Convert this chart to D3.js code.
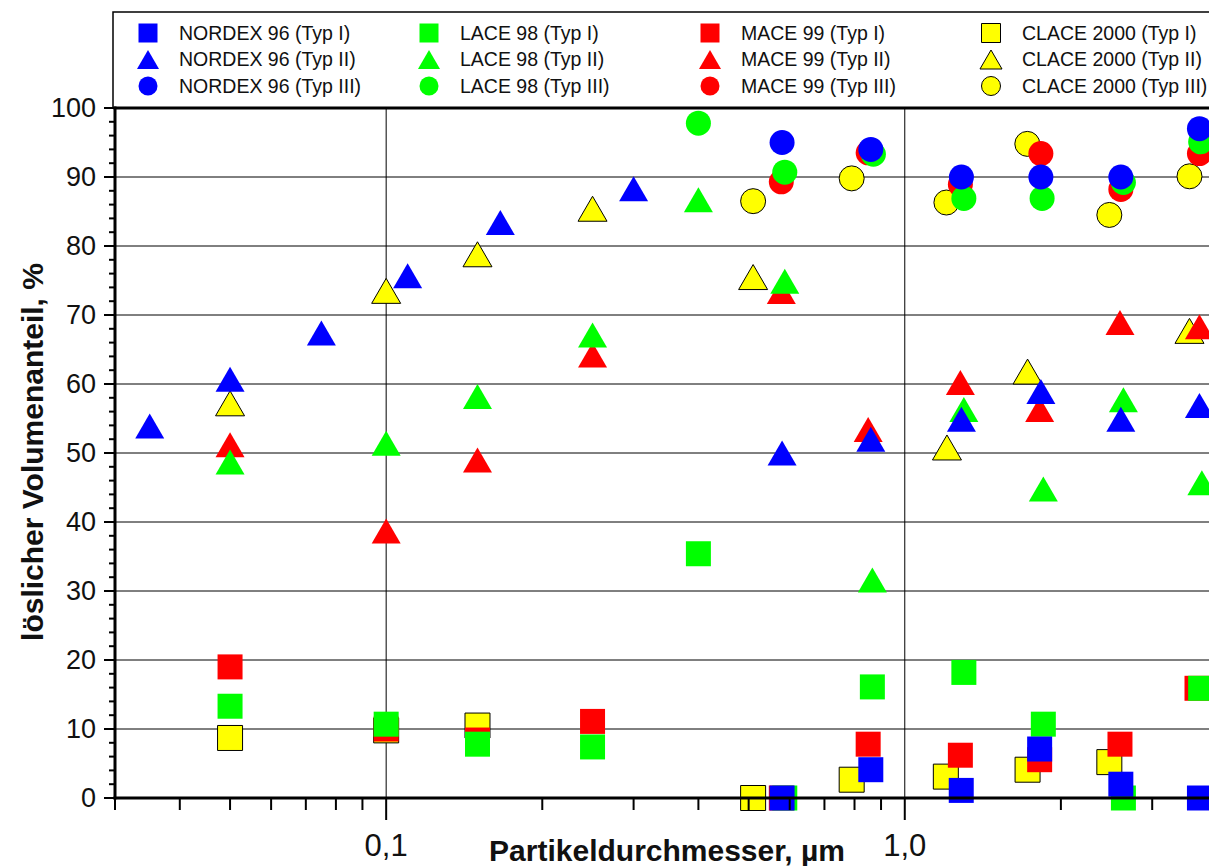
<!DOCTYPE html>
<html>
<head>
<meta charset="utf-8">
<script src="https://cdn.jsdelivr.net/npm/d3@7"></script>
<style>
  body { margin: 0; background: #fff; }
  svg { display: block; font-family: Arial, "Liberation Sans", sans-serif; }
</style>
</head>
<body>
<div id="chart"></div>
<script>
// Messwerte: [Partikeldurchmesser in µm, löslicher Volumenanteil in %]
const nordexI   = [[0.58, 0], [0.86, 4.1], [1.285, 1.1], [1.82, 7.1], [2.61, 2.0], [3.70, 0]];
const nordexII  = [[0.035, 53.9], [0.05, 60.7], [0.075, 67.4], [0.11, 75.7], [0.166, 83.4], [0.30, 88.3],
                   [0.58, 50.0], [0.86, 52.0], [1.286, 54.9], [1.83, 58.9], [2.61, 54.9], [3.70, 56.9]];
const nordexIII = [[0.58, 95.0], [0.86, 94.0], [1.286, 90.0], [1.83, 90.0], [2.61, 90.0], [3.70, 97.0]];

const laceI   = [[0.05, 13.3], [0.1, 10.7], [0.15, 7.8], [0.25, 7.4], [0.4, 35.4], [0.587, 0],
                 [0.866, 16.1], [1.30, 18.2], [1.85, 10.7], [2.64, 0], [3.72, 15.9]];
const laceII  = [[0.05, 48.7], [0.1, 51.4], [0.15, 58.2], [0.25, 67.1], [0.4, 86.7], [0.587, 74.9],
                 [0.866, 31.6], [1.30, 56.3], [1.85, 44.8], [2.64, 57.7], [3.74, 45.7]];
const laceIII = [[0.4, 97.8], [0.587, 90.7], [0.87, 93.3], [1.30, 86.9], [1.84, 86.9], [2.64, 89.2], [3.72, 95.1]];

const maceI   = [[0.05, 19.0], [0.1, 10.0], [0.15, 8.4], [0.25, 11.1], [0.578, 0], [0.85, 7.8],
                 [1.28, 6.2], [1.82, 5.55], [2.60, 7.8], [3.66, 15.9]];
const maceII  = [[0.05, 51.2], [0.1, 38.7], [0.15, 49.0], [0.25, 64.2], [0.578, 73.4], [0.85, 53.4],
                 [1.28, 60.2], [1.82, 56.3], [2.60, 68.9], [3.70, 68.3]];
const maceIII = [[0.578, 89.3], [0.85, 93.5], [1.28, 88.9], [1.83, 93.4], [2.61, 88.2], [3.70, 93.4]];

const claceI   = [[0.05, 8.7], [0.1, 9.8], [0.15, 10.5], [0.51, 0], [0.79, 2.65], [1.20, 3.1], [1.725, 4.1], [2.48, 5.2]];
const claceII  = [[0.05, 57.2], [0.1, 73.5], [0.15, 78.8], [0.25, 85.4], [0.51, 75.5], [1.206, 50.8], [1.725, 61.8], [3.54, 67.7]];
const claceIII = [[0.51, 86.5], [0.79, 89.8], [1.203, 86.3], [1.723, 94.8], [2.48, 84.5], [3.54, 90.1]];

const campaigns = ['NORDEX 96', 'LACE 98', 'MACE 99', 'CLACE 2000'];
const types = ['Typ I', 'Typ II', 'Typ III'];
const colors = ['#0000ff', '#00ff00', '#ff0000', '#ffff00'];
const shapes = ['square', 'triangle', 'circle'];
const seriesData = [
  [nordexI, nordexII, nordexIII],
  [laceI, laceII, laceIII],
  [maceI, maceII, maceIII],
  [claceI, claceII, claceIII]
];

const yTicks = d3.range(0, 101, 10);
const xMajor = [0.1, 1];
const xMinor = [0.03, 0.04, 0.05, 0.06, 0.07, 0.08, 0.09, 0.2, 0.3, 0.4, 0.5, 0.6, 0.7, 0.8, 0.9, 2, 3];
const xLabels = {0.1: '0,1', 1: '1,0'};

const width = 1209, height = 866;
const plot = {left: 115, right: 1217, top: 108, bottom: 798};

const svg = d3.select('#chart').append('svg')
  .attr('width', width)
  .attr('height', height);

const x = d3.scaleLog().domain([0.03, 4]).range([plot.left, plot.right]);
const y = d3.scaleLinear().domain([0, 100]).range([plot.bottom, plot.top]);

// grid
svg.append('g').selectAll('line')
  .data(yTicks.filter(d => d > 0 && d < 100))
  .enter().append('line')
  .attr('x1', plot.left).attr('x2', plot.right)
  .attr('y1', d => y(d)).attr('y2', d => y(d))
  .attr('stroke', '#000').attr('stroke-width', 1);

svg.append('g').selectAll('line')
  .data(xMajor)
  .enter().append('line')
  .attr('x1', d => x(d)).attr('x2', d => x(d))
  .attr('y1', plot.top).attr('y2', plot.bottom)
  .attr('stroke', '#000').attr('stroke-width', 1);

// marker shapes, size s = box size
function markerPath(shape, s) {
  if (shape === 'square') {
    const h = s / 2;
    return `M${-h},${-h}H${h}V${h}H${-h}Z`;
  }
  if (shape === 'triangle') {
    const w = s * 1.16 / 2, h = s / 2;
    return `M0,${-h}L${w},${h}L${-w},${h}Z`;
  }
  return d3.symbol(d3.symbolCircle, Math.PI * (s / 2) * (s / 2))();
}

// points, drawn CLACE first so NORDEX ends on top
const drawOrder = [3, 2, 1, 0];
const marks = svg.append('g');
drawOrder.forEach(ci => {
  shapes.forEach((shape, ti) => {
    marks.append('g').selectAll('path')
      .data(seriesData[ci][ti])
      .enter().append('path')
      .attr('d', markerPath(shape, 25))
      .attr('transform', d => `translate(${x(d[0])},${y(d[1])})`)
      .attr('fill', colors[ci])
      .attr('stroke', ci === 3 ? '#000' : 'none')
      .attr('stroke-width', 1);
  });
});

// frame
svg.append('line')
  .attr('x1', plot.left - 1.5).attr('x2', plot.right)
  .attr('y1', plot.top).attr('y2', plot.top)
  .attr('stroke', '#000').attr('stroke-width', 3);

// y axis
const yAxis = svg.append('g').attr('transform', `translate(${plot.left},0)`);
yAxis.selectAll('.minor')
  .data(d3.range(0, 101, 2))
  .enter().append('line')
  .attr('x1', -6).attr('x2', 0)
  .attr('y1', d => y(d)).attr('y2', d => y(d))
  .attr('stroke', '#000').attr('stroke-width', 2);
yAxis.selectAll('.major')
  .data(yTicks)
  .enter().append('line')
  .attr('x1', -11).attr('x2', 0)
  .attr('y1', d => y(d)).attr('y2', d => y(d))
  .attr('stroke', '#000').attr('stroke-width', 2);
yAxis.selectAll('text')
  .data(yTicks)
  .enter().append('text')
  .attr('x', -19)
  .attr('y', d => y(d))
  .attr('dy', '0.35em')
  .attr('text-anchor', 'end')
  .attr('font-size', '27px')
  .attr('fill', '#111')
  .text(d => d);
yAxis.append('line')
  .attr('x1', 0).attr('x2', 0)
  .attr('y1', plot.top - 1.5).attr('y2', plot.bottom + 1.5)
  .attr('stroke', '#000').attr('stroke-width', 3);

// x axis
const xAxis = svg.append('g').attr('transform', `translate(0,${plot.bottom})`);
xAxis.selectAll('.minor')
  .data(xMinor)
  .enter().append('line')
  .attr('x1', d => x(d)).attr('x2', d => x(d))
  .attr('y1', 0).attr('y2', 12)
  .attr('stroke', '#000').attr('stroke-width', 2);
xAxis.selectAll('.major')
  .data(xMajor)
  .enter().append('line')
  .attr('x1', d => x(d)).attr('x2', d => x(d))
  .attr('y1', 0).attr('y2', 22)
  .attr('stroke', '#000').attr('stroke-width', 2);
xAxis.selectAll('text')
  .data(xMajor)
  .enter().append('text')
  .attr('x', d => x(d))
  .attr('y', 58)
  .attr('text-anchor', 'middle')
  .attr('font-size', '31px')
  .attr('fill', '#111')
  .text(d => xLabels[d]);
xAxis.append('line')
  .attr('x1', plot.left - 1.5).attr('x2', plot.right)
  .attr('y1', 0).attr('y2', 0)
  .attr('stroke', '#000').attr('stroke-width', 3);

// axis titles
svg.append('text')
  .attr('x', 667).attr('y', 861)
  .attr('text-anchor', 'middle')
  .attr('font-size', '30px').attr('font-weight', 'bold')
  .attr('fill', '#111')
  .text('Partikeldurchmesser, µm');

svg.append('text')
  .attr('transform', 'translate(43,452) rotate(-90)')
  .attr('text-anchor', 'middle')
  .attr('font-size', '30px').attr('font-weight', 'bold')
  .attr('fill', '#111')
  .text('löslicher Volumenanteil, %');

// legend
const legend = svg.append('g');
legend.append('rect')
  .attr('x', 113).attr('y', 12)
  .attr('width', plot.right - 113).attr('height', plot.top - 12)
  .attr('fill', 'none').attr('stroke', '#000').attr('stroke-width', 1.5);

campaigns.forEach((camp, ci) => {
  types.forEach((typ, ti) => {
    const lx = 148 + ci * 281, ly = 33 + ti * 26.5;
    legend.append('path')
      .attr('d', markerPath(shapes[ti], 19))
      .attr('transform', `translate(${lx},${ly})`)
      .attr('fill', colors[ci])
      .attr('stroke', ci === 3 ? '#000' : 'none')
      .attr('stroke-width', 1);
    legend.append('text')
      .attr('x', lx + 31).attr('y', ly)
      .attr('dy', '0.35em')
      .attr('font-size', '19.5px')
      .attr('fill', '#111')
      .text(`${camp} (${typ})`);
  });
});
</script>
</body>
</html>
